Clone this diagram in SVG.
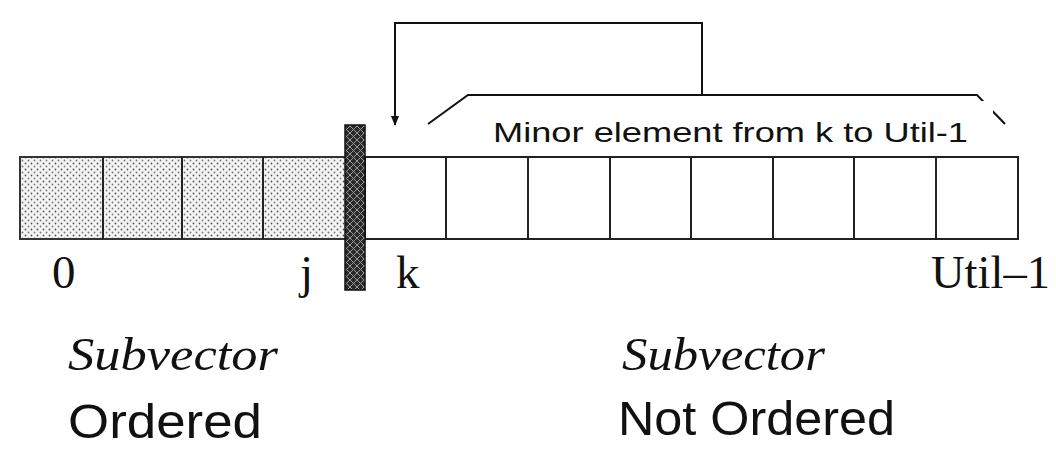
<svg xmlns="http://www.w3.org/2000/svg" width="1056" height="459" viewBox="0 0 1056 459">
  <style>
    .cell { fill: none; stroke: #222; stroke-width: 2; }
    .conn { fill: none; stroke: #111; stroke-width: 2; }
    .idx { font-family: "Liberation Serif", "Times New Roman", serif; font-size: 47px; fill: #111; }
    .sub { font-family: "Liberation Serif", "Times New Roman", serif; font-style: italic; font-size: 47px; fill: #111; }
    .lab { font-family: "Liberation Sans", Arial, sans-serif; font-size: 48px; fill: #111; }
    .note { font-family: "Liberation Sans", Arial, sans-serif; font-size: 28px; fill: #111; }
  </style>
  <defs>
    <pattern id="dots" width="6" height="6" patternUnits="userSpaceOnUse">
      <rect width="6" height="6" fill="#f4f4f4"/>
      <circle cx="1.5" cy="1.5" r="0.9" fill="#555"/>
      <circle cx="4.5" cy="4.5" r="0.9" fill="#777"/>
    </pattern>
    <pattern id="hatch" width="7" height="7" patternUnits="userSpaceOnUse">
      <rect width="7" height="7" fill="#2a2a2a"/>
      <path d="M0 0 L7 7 M7 0 L0 7" stroke="#999" stroke-width="1"/>
    </pattern>
    <marker id="arr" viewBox="0 0 10 10" refX="9" refY="5" markerWidth="5" markerHeight="5" orient="auto">
      <path d="M0 1 L10 5 L0 9 Z" fill="#111"/>
    </marker>
  </defs>
  <rect width="1056" height="459" fill="#fff"/>

  <g id="ordered-strip">
    <rect x="20" y="157" width="326" height="82" fill="url(#dots)" stroke="#333" stroke-width="2"/>
    <line class="cell" x1="103" y1="157" x2="103" y2="239"/>
    <line class="cell" x1="182" y1="157" x2="182" y2="239"/>
    <line class="cell" x1="263" y1="157" x2="263" y2="239"/>
  </g>

  <g id="unordered-strip">
    <rect class="cell" x="365" y="157" width="653" height="82"/>
    <line class="cell" x1="446" y1="157" x2="446" y2="239"/>
    <line class="cell" x1="528" y1="157" x2="528" y2="239"/>
    <line class="cell" x1="610" y1="157" x2="610" y2="239"/>
    <line class="cell" x1="691" y1="157" x2="691" y2="239"/>
    <line class="cell" x1="773" y1="157" x2="773" y2="239"/>
    <line class="cell" x1="854" y1="157" x2="854" y2="239"/>
    <line class="cell" x1="936" y1="157" x2="936" y2="239"/>
  </g>

  <g id="separator">
    <rect x="345" y="125" width="20" height="165" fill="url(#hatch)" stroke="#111" stroke-width="1.5"/>
  </g>

  <g id="connectors">
    <polyline class="conn" points="702,95 702,23 395,23 395,125" marker-end="url(#arr)"/>
    <polyline class="conn" points="428,124 468,95 977,95 1005,124"/>
  </g>

  <g id="note">
    <rect x="470" y="101" width="523" height="54" fill="#fff"/>
    <text class="note" x="493" y="142" textLength="475" lengthAdjust="spacingAndGlyphs">Minor element from k to Util-1</text>
  </g>

  <g id="indices">
    <text class="idx" x="52" y="288">0</text>
    <text class="idx" x="300" y="288">j</text>
    <text class="idx" x="396" y="288">k</text>
    <text class="idx" x="931" y="288" textLength="119" lengthAdjust="spacingAndGlyphs">Util–1</text>
  </g>

  <g id="label-ordered">
    <text class="sub" x="68" y="370" textLength="210" lengthAdjust="spacingAndGlyphs">Subvector</text>
    <text class="lab" x="68" y="438" textLength="194" lengthAdjust="spacingAndGlyphs">Ordered</text>
  </g>

  <g id="label-not-ordered">
    <text class="sub" x="622" y="370" textLength="203" lengthAdjust="spacingAndGlyphs">Subvector</text>
    <text class="lab" x="618" y="435" textLength="277" lengthAdjust="spacingAndGlyphs">Not Ordered</text>
  </g>
</svg>
